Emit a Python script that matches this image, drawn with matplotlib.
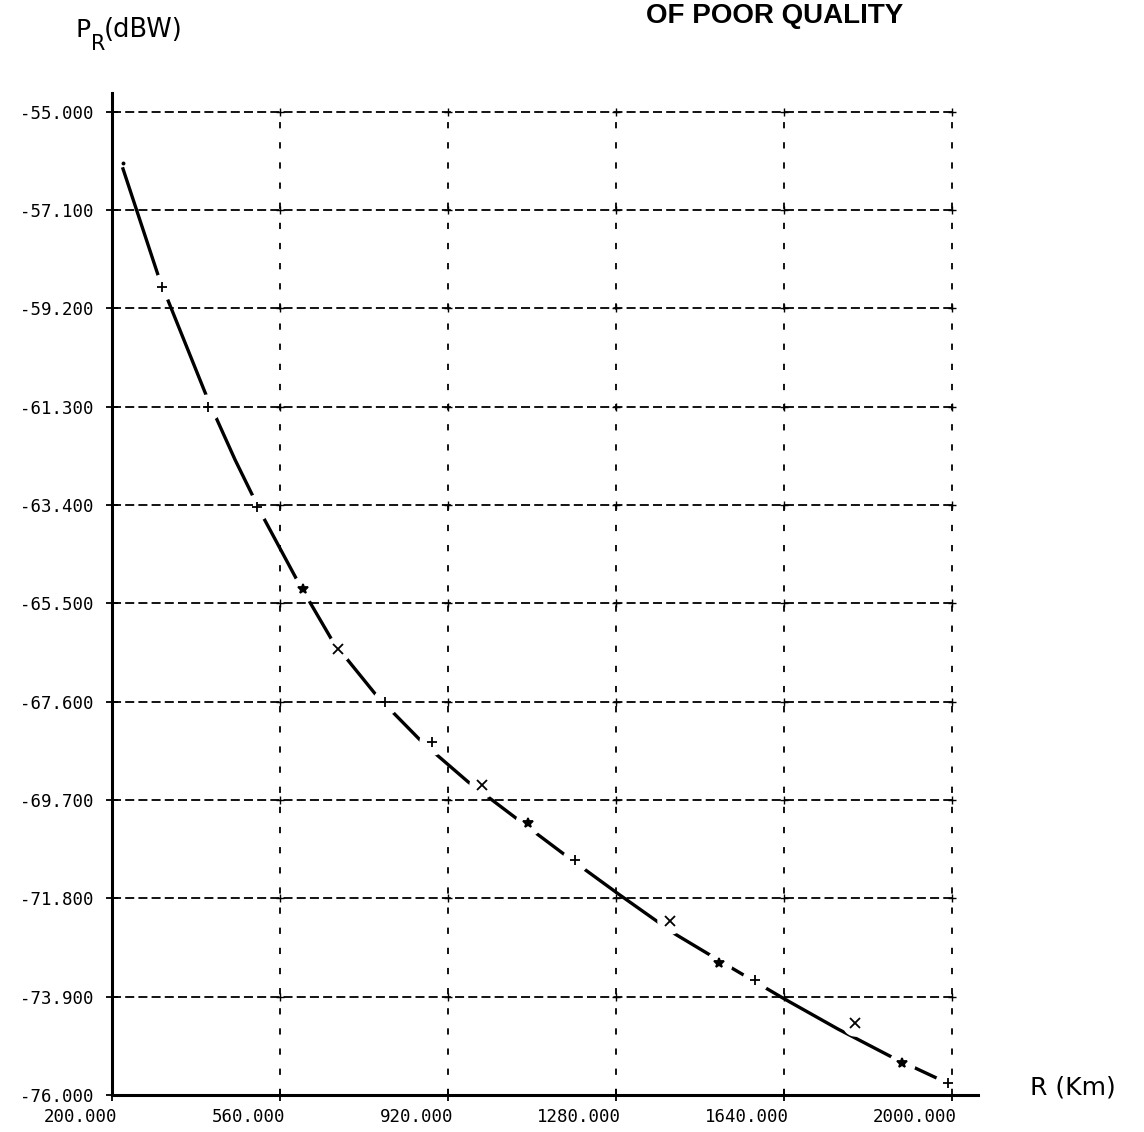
import matplotlib
matplotlib.use("Agg")
import matplotlib.pyplot as plt
import numpy as np
from matplotlib.transforms import ScaledTranslation

plt.rcParams['lines.scale_dashes'] = False

# ---- data ----
# traced curve
R_curve = [223.6, 300.7, 405.7, 463.6, 523.6, 598.6, 673.6, 767.9, 866.4, 962.9,
           1074.3, 1177.1, 1288.6, 1406.4, 1528.6, 1637.9, 1755.7, 1871.4, 1985.0]
P_curve = [-56.22, -58.55, -61.15, -62.43, -63.65, -65.04, -66.32, -67.48, -68.48, -69.31,
           -70.15, -70.92, -71.73, -72.56, -73.29, -73.93, -74.59, -75.19, -75.72]
# plotted point symbols
R_points = [224, 307, 406, 511, 609, 684, 785, 886, 993, 1091, 1192, 1396, 1501, 1578, 1792, 1893, 1991]
P_points = [-56.09, -58.74, -61.30, -63.44, -65.19, -66.47, -67.60, -68.46, -69.38, -70.19,
            -70.98, -72.28, -73.18, -73.54, -74.46, -75.32, -75.74]
point_markers = ['.', '+', '+', '+', '*', 'x', '+', '+', 'x', '*', '+', 'x', '*', '+', 'x', '*', '+']

x_ticks = [200, 560, 920, 1280, 1640, 2000]
x_tick_labels = ["200.000", "560.000", "920.000", "1280.000", "1640.000", "2000.000"]
y_ticks = [-55.0, -57.1, -59.2, -61.3, -63.4, -65.5, -67.6, -69.7, -71.8, -73.9, -76.0]
y_tick_labels = ["-55.000", "-57.100", "-59.200", "-61.300", "-63.400", "-65.500",
                 "-67.600", "-69.700", "-71.800", "-73.900", "-76.000"]

W, H = 1144, 1132
fig = plt.figure(figsize=(W / 100, H / 100), dpi=100)
left, right, top, bottom = 112, 978, 93, 1095
ax = fig.add_axes([left / W, 1 - bottom / H, (right - left) / W, (bottom - top) / H])
ax.set_xlim(200, 2056)
ax.set_ylim(-76.0, -54.6)

# grid (drawn above the white gap discs so it stays unbroken)
gy = y_ticks[:-1]
gx = x_ticks[1:]
ax.hlines(gy, x_ticks[0], x_ticks[-1], colors='black', linewidth=1.3,
          linestyles=(0, (6.5, 3.0)), zorder=4.5)
ax.vlines(gx, y_ticks[-1], y_ticks[0], colors='black', linewidth=1.3,
          linestyles=(0, (4.5, 10.0)), zorder=4.5)
XX, YY = np.meshgrid(gx, gy)
ax.plot(XX.ravel(), YY.ravel(), linestyle='none', marker='+', markersize=6,
        markeredgewidth=1.0, color='black', zorder=4.5)

# curve with gaps around the point symbols
ax.plot(R_curve, P_curve, '-', color='black', linewidth=2.4, zorder=3)
ax.plot(R_points[1:], P_points[1:], linestyle='none', marker='o', markersize=18,
        markerfacecolor='white', markeredgecolor='white', zorder=4)
for r, p, m in zip(R_points, P_points, point_markers):
    ms = 3 if m == '.' else 7
    ax.plot([r], [p], linestyle='none', marker=m, markersize=ms,
            markeredgewidth=1.3, color='black', zorder=5)

# spines / ticks
for s in ['top', 'right']:
    ax.spines[s].set_visible(False)
for s in ['left', 'bottom']:
    ax.spines[s].set_linewidth(2.2)
    ax.spines[s].set_zorder(6)
ax.set_xticks(x_ticks)
ax.set_yticks(y_ticks)
ax.set_xticklabels(x_tick_labels, family='DejaVu Sans Mono', fontsize=12.5, ha='right')
ax.set_yticklabels(y_tick_labels, family='DejaVu Sans Mono', fontsize=12.5)
ax.tick_params(direction='inout', length=9, width=1.3)
ax.tick_params(axis='y', pad=9)
ax.tick_params(axis='x', pad=5)
off = ScaledTranslation(5 / 100, 0, fig.dpi_scale_trans)
for lbl in ax.get_xticklabels():
    lbl.set_transform(lbl.get_transform() + off)

# labels
fig.text(75 / W, 1 - 37 / H, "P", fontsize=18, family='DejaVu Sans',
         va='baseline', ha='left')
fig.text(91 / W, 1 - 50 / H, "R", fontsize=15, family='DejaVu Sans',
         va='baseline', ha='left')
fig.text(104 / W, 1 - 37 / H, "(dBW)", fontsize=18.5, family='DejaVu Sans',
         va='baseline', ha='left')
fig.text(1030 / W, 1 - 1095 / H, "R (Km)", fontsize=18, family='DejaVu Sans',
         va='baseline', ha='left')
fig.text(775 / W, 1 - 23 / H, "OF POOR QUALITY", fontsize=20, fontweight='bold',
         family='Liberation Sans', va='baseline', ha='center')

fig.savefig("out.png", dpi=100)
